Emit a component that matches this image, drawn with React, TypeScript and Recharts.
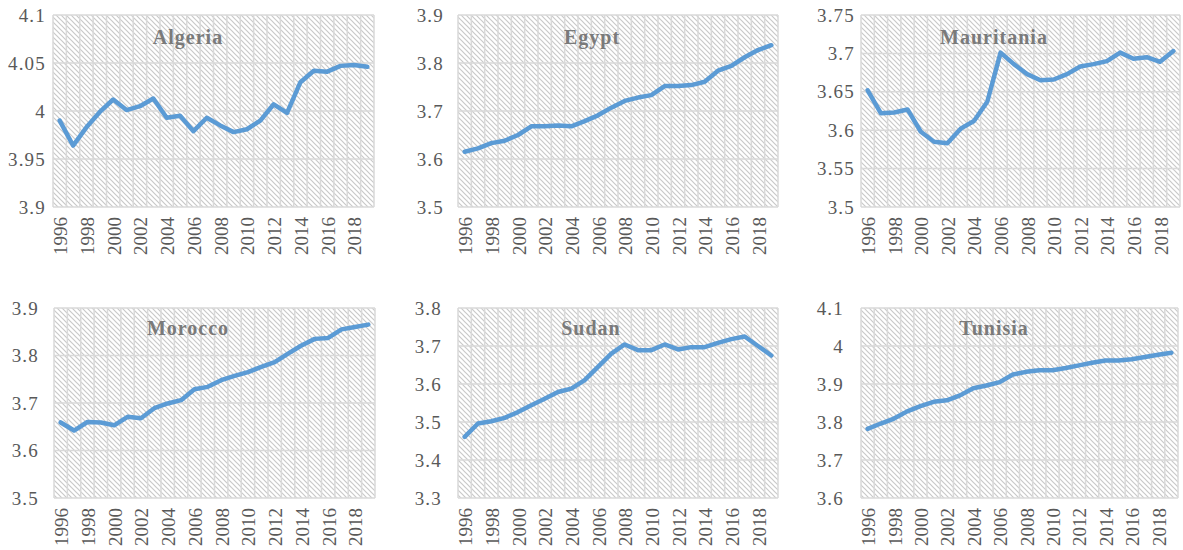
import React from "react";
import { LineChart, Line, XAxis, YAxis, CartesianGrid } from "recharts";

const years = [
  1996, 1997, 1998, 1999, 2000, 2001, 2002, 2003, 2004, 2005, 2006, 2007,
  2008, 2009, 2010, 2011, 2012, 2013, 2014, 2015, 2016, 2017, 2018, 2019
];
const yearLabels = [1996, 1998, 2000, 2002, 2004, 2006, 2008, 2010, 2012, 2014, 2016, 2018];
// gridlines sit between the years, like Excel's category gridlines
const yearEdges = [...years.map((y) => y - 0.5), years[years.length - 1] + 0.5];

const algeria = [
  3.99, 3.964, 3.983, 3.999, 4.012, 4.001, 4.005, 4.013, 3.993, 3.995, 3.979, 3.993,
  3.985, 3.978, 3.981, 3.99, 4.007, 3.998, 4.03, 4.042, 4.041, 4.047, 4.048, 4.046
];
const egypt = [
  3.615, 3.622, 3.633, 3.638, 3.65, 3.668, 3.668, 3.67, 3.668, 3.679, 3.691, 3.707,
  3.721, 3.728, 3.733, 3.752, 3.752, 3.754, 3.761, 3.784, 3.794, 3.812, 3.827, 3.837
];
const mauritania = [
  3.652, 3.622, 3.623, 3.627, 3.598, 3.585, 3.583, 3.602, 3.612, 3.637, 3.701, 3.686,
  3.673, 3.665, 3.666, 3.673, 3.683, 3.686, 3.69, 3.701, 3.693, 3.695, 3.689, 3.703
];
const morocco = [
  3.659, 3.642, 3.66, 3.659, 3.653, 3.671, 3.668, 3.689, 3.699, 3.706, 3.729, 3.734,
  3.748, 3.757, 3.765, 3.776, 3.786, 3.804, 3.821, 3.835, 3.837, 3.855, 3.86, 3.865
];
const sudan = [
  3.461, 3.496, 3.502, 3.511, 3.526, 3.544, 3.561, 3.579, 3.588, 3.61, 3.645, 3.68,
  3.704, 3.689, 3.689, 3.704, 3.691, 3.697, 3.697, 3.708, 3.718, 3.725, 3.7, 3.675
];
const tunisia = [
  3.782, 3.796, 3.809, 3.828, 3.842, 3.853, 3.857, 3.87, 3.889, 3.896, 3.905, 3.925,
  3.932, 3.936, 3.936, 3.942, 3.949, 3.956, 3.962, 3.962, 3.965, 3.971, 3.977, 3.982
];

const algeriaTicks = [3.9, 3.95, 4, 4.05, 4.1];
const egyptTicks = [3.5, 3.6, 3.7, 3.8, 3.9];
const mauritaniaTicks = [3.5, 3.55, 3.6, 3.65, 3.7, 3.75];
const moroccoTicks = [3.5, 3.6, 3.7, 3.8, 3.9];
const sudanTicks = [3.3, 3.4, 3.5, 3.6, 3.7, 3.8];
const tunisiaTicks = [3.6, 3.7, 3.8, 3.9, 4, 4.1];

const countries = ["Algeria", "Egypt", "Mauritania", "Morocco", "Sudan", "Tunisia"];
const seriesList = [algeria, egypt, mauritania, morocco, sudan, tunisia];
const tickList = [algeriaTicks, egyptTicks, mauritaniaTicks, moroccoTicks, sudanTicks, tunisiaTicks];

// plot area of each panel in page pixels, plus gap between y labels and plot
const layout = [
  { left: 53, top: 15, w: 321, h: 192, gap: 7, titleX: 188, titleY: 37 },
  { left: 458, top: 15, w: 320, h: 192, gap: 14, titleX: 592, titleY: 37 },
  { left: 861, top: 15, w: 319, h: 192, gap: 6, titleX: 994, titleY: 37 },
  { left: 54, top: 308, w: 321, h: 190, gap: 15, titleX: 188, titleY: 328 },
  { left: 458, top: 308, w: 320, h: 190, gap: 16, titleX: 591, titleY: 328 },
  { left: 861, top: 308, w: 317, h: 190, gap: 17, titleX: 994, titleY: 328 }
];

const FONT = "'Liberation Serif', 'Times New Roman', serif";
const TEXT = "#595959";
const GRID = "#d9d9d9";
const BLUE = "#5B9BD5";
const Y_AXIS_W = 52;

const fmt = (v: number) => String(parseFloat(v.toFixed(2)));

const YTick = ({ x, y, payload }: any) => (
  <text
    x={x}
    y={y}
    textAnchor="end"
    dominantBaseline="central"
    fill={TEXT}
    fontSize={19}
    fontFamily={FONT}
    letterSpacing={1.2}
  >
    {fmt(payload.value)}
  </text>
);

const XTick = ({ x, y, payload }: any) => (
  <text
    transform={`translate(${x + 1},${y}) rotate(-90)`}
    textAnchor="end"
    dominantBaseline="central"
    fill={TEXT}
    fontSize={19}
    fontFamily={FONT}
  >
    {payload.value}
  </text>
);

const Panel = ({ index }: { index: number }) => {
  const box = layout[index];
  const ticks = tickList[index];
  const data = years.map((year, i) => ({ year, value: seriesList[index][i] }));
  const hatchId = `hatch-${index}`;
  return (
    <div style={{ position: "absolute", left: box.left - Y_AXIS_W, top: box.top - 15 }}>
      <LineChart
        width={box.w + Y_AXIS_W + 2}
        height={box.h + 15 + 50}
        data={data}
        margin={{ top: 15, right: 2, bottom: 0, left: 0 }}
      >
        <defs>
          <pattern id={hatchId} width="5" height="5" patternUnits="userSpaceOnUse">
            <path d="M-1,-1 L6,6 M-1,4 L1,6 M4,-1 L6,1" stroke="#c9c9c9" strokeWidth={1.2} />
          </pattern>
        </defs>
        <CartesianGrid
          stroke={GRID}
          strokeWidth={1.5}
          fill={`url(#${hatchId})`}
          fillOpacity={1}
          verticalValues={yearEdges}
        />
        <XAxis
          dataKey="year"
          type="number"
          domain={[yearEdges[0], yearEdges[yearEdges.length - 1]]}
          ticks={yearLabels}
          interval={0}
          tickLine={false}
          axisLine={false}
          tickSize={0}
          tickMargin={10}
          height={50}
          tick={<XTick />}
        />
        <YAxis
          type="number"
          domain={[ticks[0], ticks[ticks.length - 1]]}
          ticks={ticks}
          interval={0}
          tickLine={false}
          axisLine={false}
          tickSize={0}
          tickMargin={box.gap}
          width={Y_AXIS_W}
          tick={<YTick />}
        />
        <Line
          type="linear"
          dataKey="value"
          stroke={BLUE}
          strokeWidth={4.5}
          strokeLinejoin="round"
          strokeLinecap="round"
          dot={false}
          activeDot={false}
          isAnimationActive={false}
        />
      </LineChart>
      <div
        style={{
          position: "absolute",
          left: box.titleX - box.left + Y_AXIS_W - 90,
          top: box.titleY - box.top + 15 - 12,
          width: 180,
          lineHeight: "24px",
          textAlign: "center",
          fontFamily: FONT,
          fontWeight: "bold",
          fontSize: 20,
          letterSpacing: 1,
          color: "#7a7a7a",
          pointerEvents: "none"
        }}
      >
        {countries[index]}
      </div>
    </div>
  );
};

export default function App() {
  return (
    <div
      style={{
        position: "absolute",
        left: 0,
        top: 0,
        width: 1183,
        height: 550,
        background: "#fff",
        overflow: "hidden"
      }}
    >
      {countries.map((c, i) => (
        <Panel key={c} index={i} />
      ))}
    </div>
  );
}
